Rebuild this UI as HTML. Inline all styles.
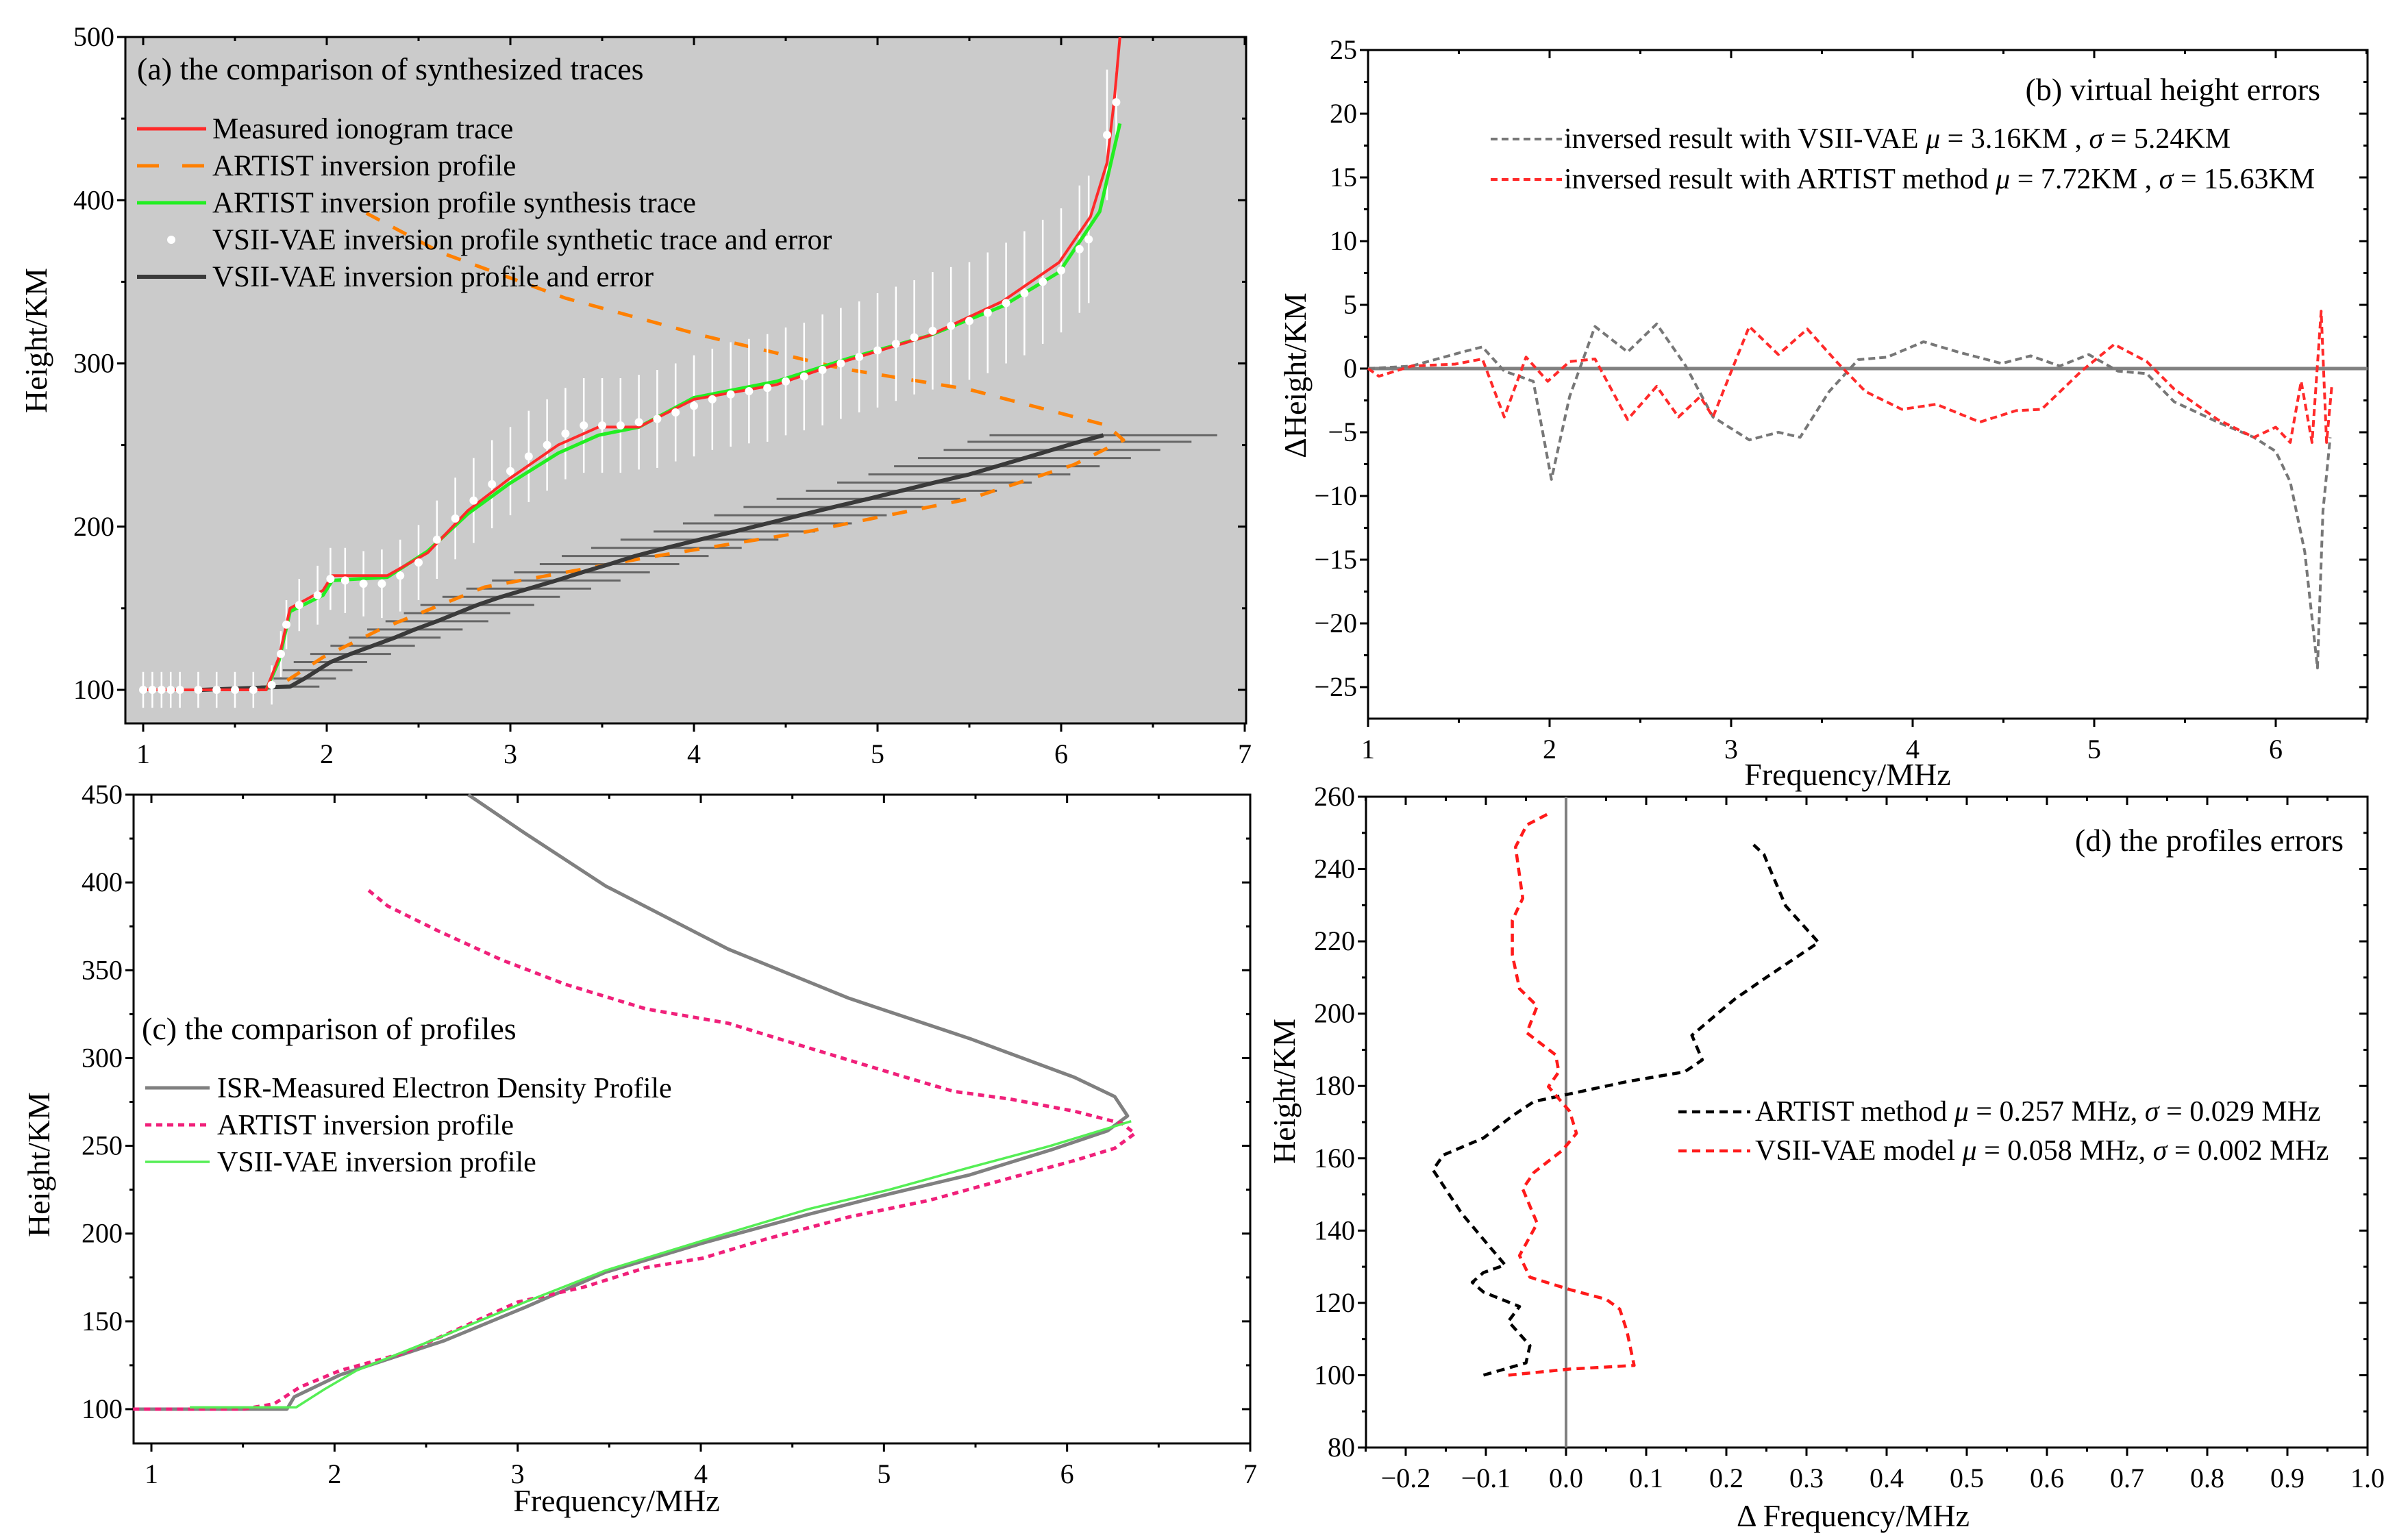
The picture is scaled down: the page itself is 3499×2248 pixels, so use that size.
<!DOCTYPE html>
<html><head><meta charset="utf-8"><title>Ionogram inversion comparison</title>
<style>
html,body{margin:0;padding:0;background:#fff;}
svg{display:block;font-family:"Liberation Serif",serif;}
</style></head>
<body>
<svg id="fig" width="3499" height="2248" viewBox="0 0 3499 2248" xmlns="http://www.w3.org/2000/svg"></svg>
<script>
// ---------- Panel (a) data ----------
const aRedF=[1,1.67,1.74,1.8,1.98,2.03,2.33,2.55,2.77,2.99,3.26,3.48,3.7,4.0,4.45,4.84,5.28,5.68,5.99,6.16,6.25,6.29,6.32];
const aRedH=[100,100,120,150,161,170,170,184,210,229,250,261,261,278,287,302,317,338,362,390,423,462,500];
const aGreenF=[1.67,1.74,1.8,1.98,2.03,2.33,2.55,2.77,2.99,3.26,3.48,3.7,4.0,4.45,4.84,5.28,5.68,5.99,6.21,6.32];
const aGreenH=[100,118,148,158,167,169,185,208,226,245,256,261,279,289,303,317,335,356,393,447];
const aDotF=[1.0,1.05,1.1,1.15,1.2,1.3,1.4,1.5,1.6,1.7,1.75,1.78,1.85,1.95,2.02,2.1,2.2,2.3,2.4,2.5,2.6,2.7,2.8,2.9,3.0,3.1,3.2,3.3,3.4,3.5,3.6,3.7,3.8,3.9,4.0,4.1,4.2,4.3,4.4,4.5,4.6,4.7,4.8,4.9,5.0,5.1,5.2,5.3,5.4,5.5,5.6,5.7,5.8,5.9,6.0,6.1,6.15,6.25,6.3];
const aDotH=[100,100,100,100,100,100,100,100,100,103,122,140,152,158,168,167,165,165,170,178,192,205,216,226,234,243,250,257,262,262,262,264,266,270,274,278,281,283,285,289,292,296,300,304,308,312,316,320,323,326,331,337,343,350,357,370,376,440,460];
const aDotE=[11,11,11,11,11,11,11,11,11,12,14,15,16,18,19,20,20,21,22,23,24,25,26,27,27,28,28,28,29,29,29,29,30,30,31,31,32,32,33,33,33,34,34,34,35,35,35,36,36,36,37,37,38,38,38,39,39,40,20];
const aBlkF=[1.32,1.8,1.88,1.95,2.02,2.13,2.25,2.37,2.48,2.6,2.71,2.82,2.95,3.1,3.25,3.39,3.54,3.68,3.85,4.03,4.22,4.4,4.58,4.76,4.95,5.13,5.31,5.5,5.65,5.8,5.95,6.1,6.23];
const aBlkH=[100,102,107,112,117,122,127,132,137,142,147,152,157,162,167,172,177,182,187,192,197,202,207,212,217,222,227,232,237,242,247,252,256];
const aBlkE=[0.15,0.16,0.17,0.19,0.2,0.22,0.23,0.25,0.26,0.28,0.29,0.31,0.32,0.34,0.35,0.37,0.38,0.4,0.41,0.43,0.44,0.46,0.47,0.49,0.5,0.52,0.53,0.55,0.56,0.58,0.59,0.61,0.62];
const aOrgF=[1.63,1.76,1.98,2.29,2.86,3.74,4.62,5.5,6.07,6.34,6.25,5.5,4.8,4.05,3.3,2.62,2.2];
const aOrgH=[100,104,120,137,163,181,197,217,238,253,262,284,297,317,340,368,393];
// ---------- Panel (b) data ----------
const bGrayF=[1,1.24,1.52,1.63,1.75,1.91,2.01,2.11,2.25,2.43,2.59,2.75,2.9,3.1,3.26,3.38,3.54,3.7,3.86,4.06,4.25,4.49,4.65,4.81,4.97,5.13,5.29,5.44,5.68,5.88,6.0,6.08,6.16,6.23,6.26,6.3];
const bGrayV=[0,0.2,1.3,1.7,-0.2,-1,-8.7,-2.2,3.3,1.3,3.5,0.2,-3.8,-5.6,-5,-5.4,-1.8,0.7,0.9,2.1,1.3,0.4,1,0.2,1.1,-0.2,-0.4,-2.6,-4.2,-5.4,-6.5,-8.9,-14.4,-23.5,-11.2,-5.4];
const bRedF=[1,1.06,1.24,1.48,1.63,1.75,1.87,1.99,2.11,2.25,2.43,2.59,2.71,2.83,2.9,3.1,3.26,3.42,3.58,3.74,3.94,4.13,4.37,4.57,4.71,4.93,5.11,5.29,5.44,5.68,5.88,6.0,6.08,6.14,6.2,6.25,6.28,6.31];
const bRedV=[0,-0.6,0.2,0.35,0.75,-3.8,0.9,-1,0.55,0.75,-4,-1.4,-3.8,-2.2,-3.8,3.3,1.1,3.1,0.55,-1.8,-3.2,-2.8,-4.2,-3.3,-3.2,-0.2,1.9,0.55,-1.6,-4,-5.4,-4.6,-5.8,-1,-5.8,4.5,-5.8,-1.2];
// ---------- Panel (c) data ----------
const cIsrF=[0.9,1.74,1.78,2.03,2.6,3.04,3.48,4.01,4.59,5.03,5.47,5.91,6.22,6.33,6.26,6.04,5.47,4.81,4.15,3.48,3.04,2.73];
const cIsrH=[100,100,107,119.5,139,158,178,194.6,211,222.6,233.5,247.6,258.5,267,278,289,311,334,362,398,428,450];
const cArtF=[0.9,1.5,1.67,1.81,2.03,2.38,2.65,3.0,3.36,3.7,4.01,4.36,4.81,5.25,5.69,6.04,6.26,6.37,6.3,6.04,5.69,5.38,5.12,4.85,4.5,4.15,3.7,3.26,2.91,2.56,2.29,2.18];
const cArtH=[100,100,103,112.5,122,132,144.5,161,169.5,180.6,186,197,209.5,219,231.7,241.6,248.6,257,262.7,269.7,276.6,281,289,297.5,308.6,319.8,328,342,356,372.7,386.6,396];
const cVaeF=[1.21,1.79,1.94,2.12,2.6,3.04,3.48,4.01,4.59,5.03,5.47,5.91,6.35];
const cVaeH=[101,101,111,122,142,161,179,196,214,225,237.7,250,264];
// ---------- Panel (d) data ----------
const dArtV=[-0.103,-0.05,-0.045,-0.072,-0.058,-0.103,-0.117,-0.103,-0.076,-0.094,-0.13,-0.166,-0.153,-0.103,-0.067,-0.04,0.0045,0.076,0.148,0.17,0.157,0.175,0.211,0.247,0.315,0.274,0.252,0.247,0.234];
const dArtH=[100,103.4,108.2,114.9,119,123,125.7,128.4,130.5,135.2,144.7,156.8,160.9,165.6,171.7,175.7,177.8,181.2,183.9,187.2,194,197.4,204.1,209.6,219.7,229.8,241.3,244,246.7];
const dVaeV=[-0.072,0.0045,0.085,0.076,0.067,0.05,0.0045,-0.045,-0.058,-0.036,-0.054,-0.04,-0.0045,0.013,0.0045,-0.022,-0.009,-0.013,-0.049,-0.036,-0.058,-0.067,-0.067,-0.054,-0.063,-0.049,-0.022];
const dVaeH=[100,101.7,102.7,112.2,118.3,121,123.7,127.1,133.1,142,151.5,156.1,162.2,166.9,173,179.8,183.9,188.6,194.7,202.1,206.9,216.3,225.8,231.9,246.1,252.2,255.3];

const NS='http://www.w3.org/2000/svg';
const fig=document.getElementById('fig');
function mk(tag,attrs,parent){const e=document.createElementNS(NS,tag);for(const k in attrs)e.setAttribute(k,attrs[k]);(parent||fig).appendChild(e);return e;}
function scale(d0,d1,p0,p1){return v=>p0+(v-d0)/(d1-d0)*(p1-p0);}

function axes(name,c){
  const g=mk('g',{});
  
  
  const fr=mk('rect',{x:c.L,y:c.T,width:c.R-c.L,height:c.B-c.T,fill:c.bg||'#fff',stroke:'#000','stroke-width':3},g);
  
  
  const tg=mk('g',{stroke:'#000','stroke-width':3},g);
  
  
  for(const v of c.xMinor){const x=c.sx(v);mk('line',{x1:x,x2:x,y1:c.B,y2:c.B+6},tg);mk('line',{x1:x,x2:x,y1:c.T,y2:c.T+6},tg);}
  for(const v of c.yMinor){const y=c.sy(v);mk('line',{x1:c.L,x2:c.L-6,y1:y,y2:y},tg);mk('line',{x1:c.R,x2:c.R-6,y1:y,y2:y},tg);}
  for(const v of c.xMajor){const x=c.sx(v);mk('line',{x1:x,x2:x,y1:c.B,y2:c.B+12},tg);mk('line',{x1:x,x2:x,y1:c.T,y2:c.T+12},tg);
    const t=mk('text',{x:x,y:c.B+58,'font-size':40,'text-anchor':'middle'},g);t.textContent=c.xFmt(v);
    
    }
  for(const v of c.yMajor){const y=c.sy(v);mk('line',{x1:c.L,x2:c.L-12,y1:y,y2:y},tg);mk('line',{x1:c.R,x2:c.R-12,y1:y,y2:y},tg);
    const t=mk('text',{x:c.L-16,y:y+13,'font-size':40,'text-anchor':'end'},g);t.textContent=c.yFmt(v);
    
    }
  return g;
}
function rng(a,b,s){const r=[];for(let v=a;v<=b+1e-9;v+=s)r.push(+v.toFixed(4));return r;}
function poly(g,xs,ys,sx,sy,attrs,name){
  const pts=xs.map((x,i)=>sx(x).toFixed(1)+','+sy(ys[i]).toFixed(1)).join(' ');
  const p=mk('polyline',Object.assign({points:pts,fill:'none','stroke-linejoin':'round'},attrs),g);
  
  
  return p;
}
function txt(x,y,s,size,extra,name){const t=mk('text',Object.assign({x:x,y:y,'font-size':size},extra||{}));t.textContent=s;
  
  return t;}
function legLine(x1,x2,y,attrs,name){const l=mk('line',Object.assign({x1:x1,x2:x2,y1:y,y2:y},attrs));
  
  return l;}

// ===== Panel (a) =====
{
const sx=scale(1,7,209,1817), sy=scale(100,500,1007,54);
axes('panel-a-axes',{L:183,R:1819,T:54,B:1056,bg:'#cbcbcb',sx,sy,xMajor:rng(1,7,1),xMinor:rng(1.5,6.5,1),yMajor:rng(100,500,100),yMinor:rng(150,450,100),xFmt:v=>v,yFmt:v=>v});
const clip=mk('clipPath',{id:'clipA'});mk('rect',{x:183,y:54,width:1636,height:1002},clip);
const d=mk('g',{'clip-path':'url(#clipA)'});
const eb=mk('g',{stroke:'#666','stroke-width':3},d);


aBlkF.forEach((f,i)=>{mk('line',{x1:sx(f-aBlkE[i]),x2:sx(f+aBlkE[i]),y1:sy(aBlkH[i]),y2:sy(aBlkH[i])},eb);});
poly(d,aOrgF,aOrgH,sx,sy,{stroke:'#ff8000','stroke-width':5,'stroke-dasharray':'22 22'},'artist-profile-line');
poly(d,aBlkF,aBlkH,sx,sy,{stroke:'#3a3a3a','stroke-width':6},'vsii-profile-line');
const wb=mk('g',{stroke:'#fff','stroke-width':2.5},d);


aDotF.forEach((f,i)=>{mk('line',{x1:sx(f),x2:sx(f),y1:sy(aDotH[i]-aDotE[i]),y2:sy(aDotH[i]+aDotE[i])},wb);});
poly(d,aGreenF,aGreenH,sx,sy,{stroke:'#22ee22','stroke-width':5},'artist-synthesis-trace');
poly(d,aRedF,aRedH,sx,sy,{stroke:'#ff2a2a','stroke-width':4},'measured-trace');
const wd=mk('g',{fill:'#fff'},d);


aDotF.forEach((f,i)=>{mk('circle',{cx:sx(f),cy:sy(aDotH[i]),r:6},wd);});
txt(200,116,'(a) the comparison of synthesized traces',46,{},'panel-a-title');
const ly=[188,242,296,350,404];
legLine(200,301,ly[0],{stroke:'#ff2a2a','stroke-width':5},'legend-measured-line');
legLine(200,301,ly[1],{stroke:'#ff8000','stroke-width':5,'stroke-dasharray':'32 34'},'legend-artist-line');
legLine(200,301,ly[2],{stroke:'#22ee22','stroke-width':5},'legend-synth-line');
const ldot=mk('circle',{cx:250,cy:ly[3],r:6,fill:'#fff'});


legLine(200,301,ly[4],{stroke:'#3a3a3a','stroke-width':6},'legend-vsii-line');
const lt=['Measured ionogram trace','ARTIST  inversion profile','ARTIST  inversion profile synthesis trace','VSII-VAE  inversion profile synthetic trace and error','VSII-VAE  inversion profile and error'];
lt.forEach((s,i)=>txt(310,ly[i]+14,s,43,{'xml:space':'preserve'},'legend-entry'));
txt(0,0,'Height/KM',46,{transform:'translate(68,497) rotate(-90)','text-anchor':'middle'},'y-axis-title-a');
}
// ===== Panel (b) =====
{
const sx=scale(1,6,1997,3322), sy=scale(-25,25,1003,73);
axes('panel-b-axes',{L:1997,R:3456,T:73,B:1049,sx,sy,xMajor:rng(1,6,1),xMinor:rng(1.5,6.5,1),yMajor:rng(-25,25,5),yMinor:rng(-22.5,22.5,5),xFmt:v=>v,yFmt:v=>v<0?'\u2212'+(-v):v});
const z=mk('line',{x1:sx(1),x2:3456,y1:sy(0),y2:sy(0),stroke:'#808080','stroke-width':5});


poly(fig,bGrayF,bGrayV,sx,sy,{stroke:'#777','stroke-width':4,'stroke-dasharray':'10 6'},'vsii-error-line');
poly(fig,bRedF,bRedV,sx,sy,{stroke:'#ff2a2a','stroke-width':4,'stroke-dasharray':'10 6'},'artist-error-line');
txt(3387,146,'(b) virtual height errors',46,{'text-anchor':'end'},'panel-b-title');
legLine(2176,2280,203,{stroke:'#777','stroke-width':4,'stroke-dasharray':'10 6'},'legend-vsii-line');
legLine(2176,2280,262,{stroke:'#ff2a2a','stroke-width':4,'stroke-dasharray':'10 6'},'legend-artist-line');
const t1=txt(2283,216,'',42,{},'legend-entry');
t1.innerHTML='inversed result with VSII-VAE <tspan font-style="italic">μ</tspan> = 3.16KM , <tspan font-style="italic">σ</tspan> = 5.24KM';
const t2=txt(2283,275,'',42,{},'legend-entry');
t2.innerHTML='inversed result with ARTIST method <tspan font-style="italic">μ</tspan> = 7.72KM , <tspan font-style="italic">σ</tspan> = 15.63KM';
txt(0,0,'ΔHeight/KM',46,{transform:'translate(1906,548) rotate(-90)','text-anchor':'middle'},'y-axis-title-b');
txt(2697,1146,'Frequency/MHz',46,{'text-anchor':'middle'},'x-axis-title-b');
}
// ===== Panel (c) =====
{
const sx=scale(1,7,221,1825), sy=scale(100,450,2057,1160);
axes('panel-c-axes',{L:195,R:1825,T:1160,B:2107,sx,sy,xMajor:rng(1,7,1),xMinor:rng(1.5,6.5,1),yMajor:rng(100,450,50),yMinor:rng(125,425,50),xFmt:v=>v,yFmt:v=>v});
poly(fig,cIsrF,cIsrH,sx,sy,{stroke:'#808080','stroke-width':5},'isr-profile-line');
poly(fig,cArtF,cArtH,sx,sy,{stroke:'#f0207a','stroke-width':5,'stroke-dasharray':'9 7'},'artist-profile-line');
poly(fig,cVaeF,cVaeH,sx,sy,{stroke:'#55ee55','stroke-width':3.5},'vsii-profile-line');
txt(207,1517,'(c) the comparison of profiles',46,{},'panel-c-title');
legLine(212,306,1588,{stroke:'#808080','stroke-width':5},'legend-isr-line');
legLine(212,306,1642,{stroke:'#f0207a','stroke-width':5,'stroke-dasharray':'9 7'},'legend-artist-line');
legLine(212,306,1696,{stroke:'#55ee55','stroke-width':3.5},'legend-vsii-line');
['ISR-Measured Electron Density Profile','ARTIST  inversion profile','VSII-VAE  inversion profile'].forEach((s,i)=>txt(317,1602+i*54,s,42,{'xml:space':'preserve'},'legend-entry'));
txt(0,0,'Height/KM',46,{transform:'translate(72,1700) rotate(-90)','text-anchor':'middle'},'y-axis-title-c');
txt(900,2206,'Frequency/MHz',46,{'text-anchor':'middle'},'x-axis-title-c');
}
// ===== Panel (d) =====
{
const sx=scale(0,1,2286,3456), sy=scale(80,260,2113,1163);
axes('panel-d-axes',{L:1994,R:3456,T:1163,B:2113,sx,sy,xMajor:rng(-0.2,1.0,0.1),xMinor:rng(-0.25,0.95,0.1),yMajor:rng(80,260,20),yMinor:rng(90,250,20),xFmt:v=>(v<0?'\u2212':'')+Math.abs(v).toFixed(1),yFmt:v=>v});
const z=mk('line',{x1:sx(0),x2:sx(0),y1:1163,y2:2113,stroke:'#808080','stroke-width':4});


poly(fig,dArtV,dArtH,sx,sy,{stroke:'#000','stroke-width':4.5,'stroke-dasharray':'12 8'},'artist-error-line');
poly(fig,dVaeV,dVaeH,sx,sy,{stroke:'#ff1a1a','stroke-width':4.5,'stroke-dasharray':'12 8'},'vsii-error-line');
txt(3421,1242,'(d) the profiles errors',46,{'text-anchor':'end'},'panel-d-title');
legLine(2450,2555,1623,{stroke:'#000','stroke-width':4.5,'stroke-dasharray':'12 8'},'legend-artist-line');
legLine(2450,2555,1680,{stroke:'#ff1a1a','stroke-width':4.5,'stroke-dasharray':'12 8'},'legend-vsii-line');
const t1=txt(2562,1636,'',42,{},'legend-entry');
t1.innerHTML='ARTIST method <tspan font-style="italic">μ</tspan> = 0.257 MHz, <tspan font-style="italic">σ</tspan> = 0.029 MHz';
const t2=txt(2562,1693,'',42,{},'legend-entry');
t2.innerHTML='VSII-VAE model <tspan font-style="italic">μ</tspan> = 0.058 MHz, <tspan font-style="italic">σ</tspan> = 0.002 MHz';
txt(0,0,'Height/KM',46,{transform:'translate(1890,1593) rotate(-90)','text-anchor':'middle'},'y-axis-title-d');
txt(2705,2228,'Δ Frequency/MHz',46,{'text-anchor':'middle'},'x-axis-title-d');
}
</script>
</body></html>
